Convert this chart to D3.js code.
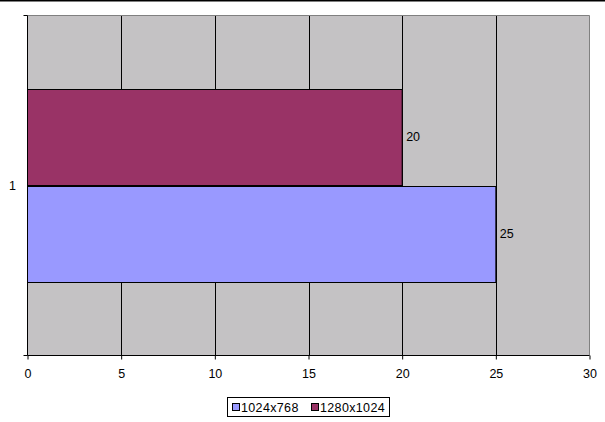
<!DOCTYPE html>
<html><head><meta charset="utf-8">
<script src="https://cdn.jsdelivr.net/npm/d3@7"></script>
<style>body{margin:0;background:#fff}svg{display:block;font-family:"Liberation Sans",Arial,sans-serif}</style>
</head><body><svg id="c" width="605" height="422"></svg>
<script>
const categories = ["1"];
const seriesNames = ["1024x768", "1280x1024"];
const seriesColors = ["#9999FF", "#993366"];
const values1024 = [25];
const values1280 = [20];
const xTicks = [0, 5, 10, 15, 20, 25, 30];

const svg = d3.select("#c");
const W = 605, H = 422;
const m = {left: 27.5, right: 15.5, top: 15.5, bottom: 66.5};
const x = d3.scaleLinear().domain([0, 30]).range([m.left, W - m.right]);
const y = d3.scaleBand().domain(categories).range([m.top, H - m.bottom]);
const inner = d3.scaleBand().domain(seriesNames.slice().reverse()).range([0, y.bandwidth()]).paddingInner(0).paddingOuter(0.77);

// top border line
svg.append("line").attr("x1", 0).attr("x2", W).attr("y1", 0.5).attr("y2", 0.5).attr("stroke", "#000").attr("stroke-width", 2);

// plot background
svg.append("rect").attr("x", x(0)).attr("y", m.top).attr("width", x(30) - x(0)).attr("height", y.range()[1] - m.top)
  .attr("fill", "#C4C2C4");
// grid lines
svg.append("g").selectAll("line").data(xTicks.filter(d => d > 0 && d < 30)).join("line")
  .attr("x1", d => Math.round(x(d)) + 0.5).attr("x2", d => Math.round(x(d)) + 0.5)
  .attr("y1", m.top).attr("y2", y.range()[1]).attr("stroke", "#000");
// plot border (top, right)
svg.append("path").attr("d", `M${x(0)},${m.top}H${x(30)}V${y.range()[1]}`).attr("fill", "none").attr("stroke", "#808080");

const data = [
  {name: seriesNames[1], value: values1280[0], color: seriesColors[1], cat: categories[0]},
  {name: seriesNames[0], value: values1024[0], color: seriesColors[0], cat: categories[0]}
];
svg.append("g").selectAll("rect").data(data).join("rect")
  .attr("x", x(0)).attr("y", d => Math.round(y(d.cat) + inner(d.name)) + 0.5)
  .attr("width", d => x(d.value) - x(0)).attr("height", Math.round(inner.bandwidth()))
  .attr("fill", d => d.color).attr("stroke", "#000");
svg.append("g").selectAll("text").data(data).join("text")
  .attr("x", d => x(d.value) + 4).attr("y", d => y(d.cat) + inner(d.name) + inner.bandwidth() / 2 + 4)
  .attr("font-size", 12.5).attr("fill", "#000").text(d => d.value);

// x axis
const xa = svg.append("g").attr("transform", `translate(0,${y.range()[1]})`)
  .call(d3.axisBottom(x).tickValues(xTicks).tickSize(4).tickPadding(10));
xa.select(".domain").attr("stroke", "#000").attr("d", `M${x(0)},0H${x(30)}`);
xa.selectAll("text").attr("font-size", 12.5).attr("font-family", "Liberation Sans, Arial, sans-serif").attr("fill", "#000");
xa.selectAll(".tick line").attr("stroke", "#000");

// y axis
svg.append("line").attr("x1", x(0)).attr("x2", x(0)).attr("y1", m.top).attr("y2", y.range()[1]).attr("stroke", "#000");
svg.append("g").selectAll("line").data([y.range()[0], y.range()[1]]).join("line")
  .attr("x1", x(0) - 4).attr("x2", x(0)).attr("y1", d => d).attr("y2", d => d).attr("stroke", "#000");
svg.append("g").selectAll("text").data(categories).join("text")
  .attr("x", 16).attr("y", d => y(d) + y.bandwidth() / 2 + 4).attr("text-anchor", "end")
  .attr("font-size", 12.5).text(d => d);

// legend
const lg = svg.append("g");
lg.append("rect").attr("x", 227.5).attr("y", 397.5).attr("width", 162).attr("height", 19).attr("fill", "#fff").attr("stroke", "#000");
const litems = [{n: seriesNames[0], c: seriesColors[0], x: 232}, {n: seriesNames[1], c: seriesColors[1], x: 311}];
litems.forEach(it => {
  lg.append("rect").attr("x", it.x + 0.5).attr("y", 403.5).attr("width", 7).attr("height", 7).attr("fill", it.c).attr("stroke", "#000");
  lg.append("text").attr("x", it.x + 9).attr("y", 412).attr("font-size", 12.5).attr("letter-spacing", 0.35).text(it.n);
});
</script></body></html>
